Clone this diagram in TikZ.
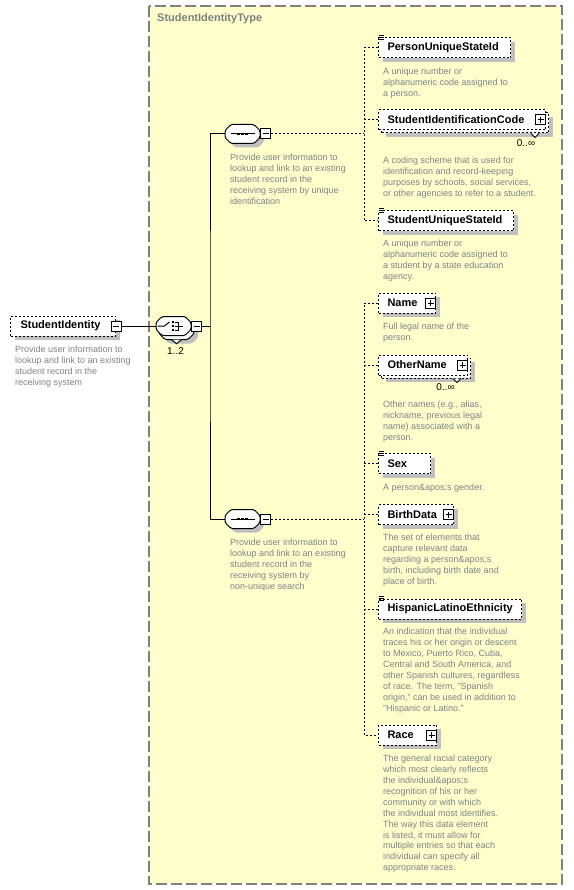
\documentclass[tikz,border=0pt]{standalone}
\usepackage{fontspec}
\setmainfont{Liberation Sans}
\usetikzlibrary{positioning}
\usetikzlibrary{shadows}

\definecolor{typefill}{RGB}{255,255,204}
\definecolor{typeline}{RGB}{128,128,128}
\definecolor{desctext}{RGB}{128,128,140}
\definecolor{shadowgray}{RGB}{192,192,192}

\tikzset{
  wire/.style={line width=1pt},
  conn/.style={line width=1pt, dash pattern=on 2pt off 2pt},
  elem/.style={draw, fill=white, line width=1pt, dash pattern=on 2pt off 2pt,
    anchor=west, minimum height=20pt, inner xsep=9pt, inner ysep=0pt,
    text width=#1, align=left, font=\fontsize{11}{13}\selectfont\bfseries},
  castshadow/.style={general shadow={fill=shadowgray, shadow xshift=4pt, shadow yshift=-4pt}},
  compositor/.style={rectangle, minimum width=35pt, minimum height=19pt, inner sep=0pt},
  octpath/.style={rounded corners=1.5pt, insert path={(-17.5,-3.5) -- (-11.5,-9.5) -- (11.5,-9.5) -- (17.5,-3.5)
    -- (17.5,3.5) -- (11.5,9.5) -- (-11.5,9.5) -- (-17.5,3.5) -- cycle}},
  pmbox/.style={draw, fill=white, line width=1pt, minimum size=10pt, inner sep=0pt},
  collapsebox/.style={pmbox, path picture={
    \draw[line width=1pt] ([xshift=2pt]path picture bounding box.west) -- ([xshift=-2pt]path picture bounding box.east);}},
  expandbox/.style={pmbox, path picture={
    \draw[line width=1pt] ([xshift=2pt]path picture bounding box.west) -- ([xshift=-2pt]path picture bounding box.east);
    \draw[line width=1pt] ([yshift=-2pt]path picture bounding box.north) -- ([yshift=2pt]path picture bounding box.south);}},
  desc/.style={anchor=north west, inner sep=0pt, align=left, text=desctext,
    font=\fontsize{9}{10.9}\selectfont},
  mult/.style={inner sep=0pt, font=\fontsize{10}{12}\selectfont}
}

\begin{document}
\begin{tikzpicture}[x=1pt, y=-1pt]
\useasboundingbox (0,0) rectangle (573,890);

% complex type frame
\draw[typeline, fill=typefill, line width=1.2pt, dash pattern=on 11pt off 4pt] (149,6) rectangle (562,884);
\node[anchor=west, inner sep=0pt, text=typeline, font=\fontsize{11}{13}\selectfont\bfseries] (typename) at (157,19) {StudentIdentityType};

% root element
\node[elem=85pt, inner xsep=10pt, castshadow] (root) at (10,326) {StudentIdentity};
\node[collapsebox] (rootpm) at (root.east) {};
\node[desc] (rootdesc) at (15,346) {Provide user information to\\lookup and link to an existing\\student record in the\\receiving system};

% compositors
\node[compositor] (choiceback) at (176.5,330) {};
\node[compositor] (choice) at (173.5,326) {};
\node[compositor] (seqA) at (242.5,134) {};
\node[compositor] (seqB) at (242.5,519) {};
\foreach \c in {choiceback,seqA,seqB}
  \fill[shadowgray, shift={(\c.center)}, xshift=4pt, yshift=-4pt, octpath];
\foreach \c in {choiceback,choice,seqA,seqB}
  \draw[wire, fill=white, shift={(\c.center)}, octpath];
\draw[wire, fill=white] ([xshift=-5pt]choiceback.south) -- ([yshift=-4pt]choiceback.south) -- ([xshift=5pt]choiceback.south);

% choice 1..2
\node[collapsebox, anchor=west] (choicepm) at (choice.east) {};
\node[mult] (choicemult) at (175.5,351) {1..2};
\begin{scope}[shift={(choice.center)}]
  \draw[wire] (-16,0) -- (-9,0) -- (-4,-4);
  \foreach \d in {-4,0,4}
    \fill (-2,\d-1) rectangle (0,\d+1);
  \draw[wire] (1,-4) -- (5,-4) -- (5,4) -- (1,4);
  \draw[wire] (1,0) -- (9,0);
\end{scope}

% sequences
\node[collapsebox, anchor=west] (seqApm) at (seqA.east) {};
\node[desc] (seqAdesc) at (230,154) {Provide user information to\\lookup and link to an existing\\student record in the\\receiving system by unique\\identification};

\node[collapsebox, anchor=west] (seqBpm) at (seqB.east) {};
\node[desc] (seqBdesc) at (230,539) {Provide user information to\\lookup and link to an existing\\student record in the\\receiving system by\\non-unique search};

\foreach \s in {seqA,seqB} {
  \draw[wire] ([xshift=-12pt]\s.center) -- ([xshift=12pt]\s.center);
  \foreach \d in {-4,0,4}
    \fill ([xshift=\d pt]\s.center) +(-1.3,-1.3) rectangle +(1.3,1.3);
}

% solid connectors
\coordinate (trunk) at (210,326);
\draw[wire] (rootpm.east) -- (choice.west);
\draw[wire] (choicepm.east) -- (trunk);
\draw[wire] (seqA.west) -| (trunk) |- (seqB.west);

% children of the unique sequence
\node[elem=114pt, castshadow] (puid) at (378,48) {PersonUniqueStateId};
\node[desc] (puiddesc) at (383,68) {A unique number or\\alphanumeric code assigned to\\a person.};

\node[elem=149pt, castshadow] (sidcback) at (381,123) {};
\draw[wire, fill=white] ([xshift=-18pt]sidcback.south east) -- ([xshift=-14pt,yshift=-4pt]sidcback.south east) -- ([xshift=-10pt]sidcback.south east);
\node[elem=149pt] (sidc) at (378,120) {StudentIdentificationCode};
\node[expandbox, anchor=east] (sidcpm) at (sidc.east) {};
\node[mult] (sidcmult) at (526,143) {0..∞};
\node[desc] (sidcdesc) at (383,157) {A coding scheme that is used for\\identification and record-keeping\\purposes by schools, social services,\\or other agencies to refer to a student.};

\node[elem=117pt, castshadow] (suid) at (378,221) {StudentUniqueStateId};
\node[desc] (suiddesc) at (383,240) {A unique number or\\alphanumeric code assigned to\\a student by a state education\\agency.};

% children of the search sequence
\node[elem=39pt, castshadow] (name) at (378,303) {Name};
\node[expandbox, anchor=east] (namepm) at (name.east) {};
\node[desc] (namedesc) at (383,323) {Full legal name of the\\person.};

\node[elem=71pt, castshadow] (onameback) at (381,368) {};
\draw[wire, fill=white] ([xshift=-18pt]onameback.south east) -- ([xshift=-14pt,yshift=-4pt]onameback.south east) -- ([xshift=-10pt]onameback.south east);
\node[elem=71pt] (oname) at (378,365) {OtherName};
\node[expandbox, anchor=east] (onamepm) at (oname.east) {};
\node[mult] (onamemult) at (445.5,387) {0..∞};
\node[desc] (onamedesc) at (383,401) {Other names (e.g., alias,\\nickname, previous legal\\name) associated with a\\person.};

\node[elem=34pt, castshadow] (sex) at (378,463.5) {Sex};
\node[desc] (sexdesc) at (383,484) {A person\&apos;s gender.};

\node[elem=57pt, castshadow] (birth) at (378,514.5) {BirthData};
\node[expandbox, anchor=east] (birthpm) at (birth.east) {};
\node[desc] (birthdesc) at (383,534) {The set of elements that\\capture relevant data\\regarding a person\&apos;s\\birth, including birth date and\\place of birth.};

\node[elem=125pt, castshadow] (hisp) at (378,609) {HispanicLatinoEthnicity};
\node[desc] (hispdesc) at (383,628) {An indication that the individual\\traces his or her origin or descent\\to Mexico, Puerto Rico, Cuba,\\Central and South America, and\\other Spanish cultures, regardless\\of race. The term, "Spanish\\origin," can be used in addition to\\"Hispanic or Latino."};

\node[elem=40pt, castshadow] (race) at (378,735) {Race};
\node[expandbox, anchor=east] (racepm) at (race.east) {};
\node[desc] (racedesc) at (383,755) {The general racial category\\which most clearly reflects\\the individual\&apos;s\\recognition of his or her\\community or with which\\the individual most identifies.\\The way this data element\\is listed, it must allow for\\multiple entries so that each\\individual can specify all\\appropriate races.};

% simple type marks
\foreach \n in {puid,suid,sex,hisp}
  \foreach \d in {2,0,-2}
    \draw[line width=0.8pt] ([xshift=0.5pt,yshift=\d pt]\n.north west) -- ++(5,0);

% dashed connectors
\coordinate (busA) at (364,134);
\coordinate (busB) at (364,519);
\draw[conn] (seqApm.east) -- (busA);
\draw[conn] (puid.west) -| (busA) |- (suid.west);
\draw[conn] (sidc.west) -- (sidc.west -| busA);
\draw[conn] (seqBpm.east) -- (busB);
\draw[conn] (name.west) -| (busB) |- (race.west);
\foreach \n in {oname,sex,birth,hisp}
  \draw[conn] (\n.west) -- (\n.west -| busB);
\end{tikzpicture}
\end{document}
